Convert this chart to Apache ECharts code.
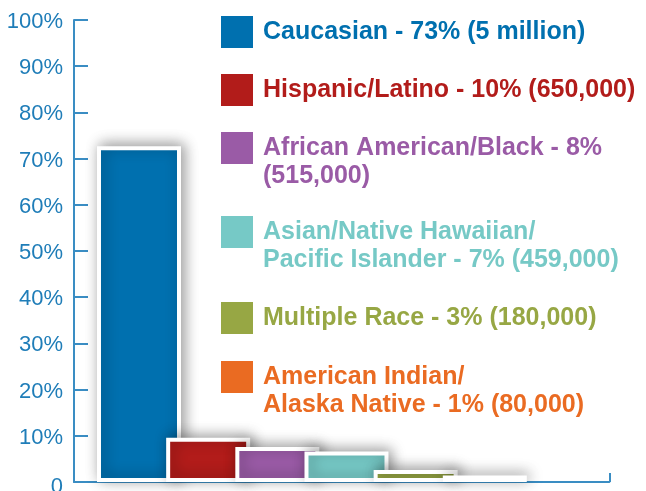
<!DOCTYPE html>
<html>
<head>
<meta charset="utf-8">
<script src="https://cdn.jsdelivr.net/npm/echarts@6/dist/echarts.min.js"></script>
<style>html,body{margin:0;padding:0;background:#fff;}#c{width:646px;height:491px;}</style>
</head>
<body>
<div id="c"></div>
<script>
// ---- data ----
var categories = ['Caucasian', 'Hispanic/Latino', 'African American/Black', 'Asian/Native Hawaiian/Pacific Islander', 'Multiple Race', 'American Indian/Alaska Native'];
var percents = [72.7, 9.6, 7.6, 6.6, 2.6, 1.4];
var legendLabels = [
  'Caucasian - 73% (5 million)',
  'Hispanic/Latino - 10% (650,000)',
  'African American/Black - 8%\n(515,000)',
  'Asian/Native Hawaiian/\nPacific Islander - 7% (459,000)',
  'Multiple Race - 3% (180,000)',
  'American Indian/\nAlaska Native - 1% (80,000)'
];
var yTicks = [0, 10, 20, 30, 40, 50, 60, 70, 80, 90, 100];

// ---- style ----
var colors = ['#0070AF', '#B21C1A', '#9A5BA6', '#76C9C6', '#97A744', '#EA6B22'];
var legendIconTops = [16, 74, 132, 216, 302, 361];
var axisColor = '#3A8DC3';
var labelColor = '#1F7DB8';
var FONT = '"Liberation Sans", Arial, sans-serif';
var LH = 28;
var X_MIN = -0.9398, X_MAX = 6.80;

var chart = echarts.init(document.getElementById('c'), null, {renderer: 'canvas'});

var series = categories.map(function (name, i) {
  return {
    name: name,
    type: 'bar',
    barWidth: 84,
    barGap: '-100%',
    data: [[i, percents[i]]],
    itemStyle: {
      color: colors[i],
      borderColor: '#ffffff',
      borderWidth: 4,
      shadowBlur: 14,
      shadowColor: 'rgba(0,0,0,0.38)',
      shadowOffsetX: 3,
      shadowOffsetY: -2
    },
    emphasis: {disabled: true},
    animation: false
  };
});

var legends = categories.map(function (name, i) {
  var lines = legendLabels[i].split('\n');
  var twoLine = lines.length > 1;
  var rich = {
    a: {
      color: colors[i],
      fontFamily: FONT,
      fontWeight: 'bold',
      fontSize: 25,
      lineHeight: LH,
      padding: [0, 0, 0, 5]
    }
  };
  var text = (twoLine ? ['{a| }'] : []).concat(lines.map(function (l) { return '{a|' + l + '}'; })).join('\n');
  return {
    data: [{name: name, icon: 'rect', itemStyle: {color: colors[i], borderWidth: 0, shadowBlur: 0}}],
    left: 221,
    top: twoLine ? legendIconTops[i] - 26 : legendIconTops[i],
    orient: 'vertical',
    padding: 0,
    itemWidth: 32,
    itemHeight: 32,
    selectedMode: false,
    formatter: function () { return text; },
    textStyle: {
      color: colors[i],
      fontFamily: FONT,
      fontWeight: 'bold',
      fontSize: 25,
      lineHeight: LH,
      rich: rich
    }
  };
});

var tickLabelStyle = {color: labelColor, fontFamily: FONT, fontSize: 22};

chart.setOption({
  animation: false,
  backgroundColor: '#ffffff',
  grid: {left: 74, right: 36.7, top: 20, bottom: 9, containLabel: false, outerBoundsMode: 'none'},
  legend: legends,
  xAxis: {
    type: 'value',
    min: X_MIN,
    max: X_MAX,
    axisLine: {show: true, onZero: false, lineStyle: {color: axisColor, width: 2}},
    axisTick: {show: true, inside: true, length: 9, customValues: [X_MAX], lineStyle: {color: axisColor, width: 2}},
    axisLabel: {show: false},
    splitLine: {show: false}
  },
  yAxis: {
    type: 'value',
    min: yTicks[0],
    max: yTicks[yTicks.length - 1],
    interval: 10,
    axisLine: {show: true, onZero: false, lineStyle: {color: axisColor, width: 2}},
    axisTick: {show: true, inside: true, length: 14, lineStyle: {color: axisColor, width: 2}},
    splitLine: {show: false},
    axisLabel: {
      color: labelColor,
      fontFamily: FONT,
      fontSize: 22,
      margin: 11,
      formatter: function (v) { return v === 0 ? '{z|0}' : '{n|' + v + '%}'; },
      rich: {
        n: Object.assign({padding: [4, 0, 0, 0]}, tickLabelStyle),
        z: Object.assign({padding: [10, 0, 0, 0]}, tickLabelStyle)
      }
    }
  },
  series: series
});
</script>
</body>
</html>
